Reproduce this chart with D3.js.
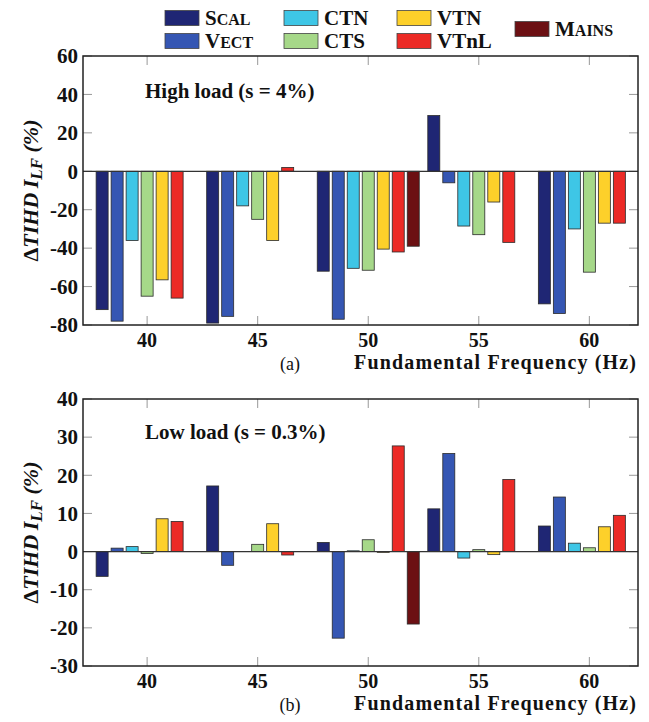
<!DOCTYPE html>
<html>
<head>
<meta charset="utf-8">
<script src="https://cdn.jsdelivr.net/npm/d3@7"></script>
<style>
body { margin: 0; background: #fff; }
svg { display: block; }
text { font-family: "Liberation Serif", "Times New Roman", serif; fill: #111; }
</style>
</head>
<body>
<div class="canva"></div>
<script>
// categories / series
const freqs = [40, 45, 50, 55, 60];
const seriesNames = ["Scal", "Vect", "CTN", "CTS", "VTN", "VTnL", "Mains"];
const seriesColors = ["#1f2674", "#3556b3", "#3ec6e6", "#a6d889", "#fdd02a", "#ec2a26", "#6c1013"];
const smallCapsNames = ["Scal", "Vect", "Mains"];

// (a) high load, delta TIHD in %
const highScal  = [-72, -79, -52, 29, -69];
const highVect  = [-78, -75.5, -77, -6, -74];
const highCTN   = [-36, -18, -50.5, -28.5, -30];
const highCTS   = [-65, -25, -51.5, -33, -52.5];
const highVTN   = [-56.5, -36, -40.5, -16, -27];
const highVTnL  = [-66, 2, -42, -37, -27];
const highMains = [null, null, -39, null, null];

// (b) low load
const lowScal  = [-6.5, 17.2, 2.4, 11.2, 6.7];
const lowVect  = [0.9, -3.6, -22.7, 25.7, 14.3];
const lowCTN   = [1.3, null, 0.2, -1.7, 2.2];
const lowCTS   = [-0.5, 1.9, 3.1, 0.5, 1.0];
const lowVTN   = [8.6, 7.3, -0.2, -0.8, 6.5];
const lowVTnL  = [7.9, -0.9, 27.7, 18.9, 9.5];
const lowMains = [null, null, -19, null, null];

const yTicksHigh = [-80, -60, -40, -20, 0, 20, 40, 60];
const yTicksLow = [-30, -20, -10, 0, 10, 20, 30, 40];

const W = 649, H = 722;
const left = 83, right = 638;

const svg = d3.select('.canva').append('svg')
  .attr('width', W)
  .attr('height', H);

const x = d3.scaleLinear().domain([37.1, 62.2]).range([left, right]);
const inner = d3.scaleBand().domain(seriesNames).range([-52.5, 52.5])
  .paddingInner(0.2).paddingOuter(0.1);
const color = d3.scaleOrdinal().domain(seriesNames).range(seriesColors);

const panels = [
  { series: [highScal, highVect, highCTN, highCTS, highVTN, highVTnL, highMains],
    domain: [-80, 60], ticks: yTicksHigh, top: 56, bottom: 325,
    title: "High load (s = 4%)", tag: "(a)", titleY: 98 },
  { series: [lowScal, lowVect, lowCTN, lowCTS, lowVTN, lowVTnL, lowMains],
    domain: [-30, 40], ticks: yTicksLow, top: 399, bottom: 666,
    title: "Low load (s = 0.3%)", tag: "(b)", titleY: 439 }
];

panels.forEach(p => {
  const y = d3.scaleLinear().domain(p.domain).range([p.bottom, p.top]);
  const g = svg.append('g');

  // inner tick marks (all four sides)
  const tl = 9;
  g.selectAll('.xt').data(freqs).enter().append('path')
    .attr('d', f => `M${x(f)},${p.bottom}v${-tl}M${x(f)},${p.top}v${tl}`)
    .attr('stroke', '#999').attr('stroke-width', 1);
  g.selectAll('.yt').data(p.ticks).enter().append('path')
    .attr('d', t => `M${left},${y(t)}h${tl}M${right},${y(t)}h${-tl}`)
    .attr('stroke', '#999').attr('stroke-width', 1);

  // bars
  const rows = [];
  p.series.forEach((vals, si) => {
    vals.forEach((v, fi) => {
      if (v !== null) rows.push({ s: seriesNames[si], f: freqs[fi], v: v });
    });
  });
  g.selectAll('rect.bar').data(rows).enter().append('rect')
    .attr('class', 'bar')
    .attr('x', d => x(d.f) + inner(d.s))
    .attr('width', inner.bandwidth())
    .attr('y', d => y(Math.max(0, d.v)))
    .attr('height', d => Math.abs(y(d.v) - y(0)))
    .attr('fill', d => color(d.s))
    .attr('stroke', '#2a2a2a')
    .attr('stroke-width', 0.8);

  // zero line
  g.append('line')
    .attr('x1', left).attr('x2', right)
    .attr('y1', y(0)).attr('y2', y(0))
    .attr('stroke', '#333').attr('stroke-width', 1.3);

  // frame
  g.append('rect')
    .attr('x', left).attr('y', p.top)
    .attr('width', right - left).attr('height', p.bottom - p.top)
    .attr('fill', 'none').attr('stroke', '#222').attr('stroke-width', 1.5);

  // tick labels
  g.selectAll('.yl').data(p.ticks).enter().append('text')
    .attr('x', left - 5).attr('y', t => y(t)).attr('dy', '0.35em')
    .attr('text-anchor', 'end')
    .style('font-size', '21px').style('font-weight', 'bold')
    .text(t => t);
  g.selectAll('.xl').data(freqs).enter().append('text')
    .attr('x', f => x(f)).attr('y', p.bottom + 22)
    .attr('text-anchor', 'middle')
    .style('font-size', '20px').style('font-weight', 'bold')
    .text(f => f);

  // axis titles
  g.append('text')
    .attr('x', right - 2).attr('y', p.bottom + 44)
    .attr('text-anchor', 'end')
    .attr('textLength', 282).attr('lengthAdjust', 'spacing')
    .style('font-size', '20px').style('font-weight', 'bold')
    .text('Fundamental Frequency (Hz)');
  g.append('text')
    .attr('x', 290).attr('y', p.bottom + 45)
    .attr('text-anchor', 'middle')
    .style('font-size', '18px')
    .text(p.tag);

  const yl = g.append('text')
    .attr('transform', `translate(38,${(p.top + p.bottom) / 2}) rotate(-90)`)
    .attr('text-anchor', 'middle')
    .style('font-size', '22px').style('font-weight', 'bold');
  yl.append('tspan').text('\u0394');
  yl.append('tspan').style('font-style', 'italic').text('TIHD\u2009I');
  yl.append('tspan').style('font-style', 'italic').style('font-size', '17px').attr('dy', 4).text('LF');
  yl.append('tspan').style('font-style', 'italic').attr('dy', -4).text(' (%)');

  // panel title
  g.append('text')
    .attr('x', 145).attr('y', p.titleY)
    .style('font-size', '21px').style('font-weight', 'bold')
    .text(p.title);
});

// legend
const legend = svg.append('g');
const colX = [165, 284, 397, 515];
seriesNames.forEach((name, i) => {
  const isMains = name === "Mains";
  const col = isMains ? 3 : Math.floor(i / 2);
  const row = i % 2;
  const cy = isMains ? 29 : (row === 0 ? 18 : 41);
  legend.append('rect')
    .attr('x', colX[col]).attr('y', cy - 7.5)
    .attr('width', 34).attr('height', 15)
    .attr('fill', color(name))
    .attr('stroke', '#444').attr('stroke-width', 0.8);
  const t = legend.append('text')
    .attr('x', colX[col] + 40).attr('y', cy + 7)
    .style('font-size', '21px').style('font-weight', 'bold');
  if (smallCapsNames.includes(name)) {
    t.append('tspan').text(name[0]);
    t.append('tspan').style('font-size', '16px').text(name.slice(1).toUpperCase());
  } else {
    t.text(name);
  }
});
</script>
</body>
</html>
